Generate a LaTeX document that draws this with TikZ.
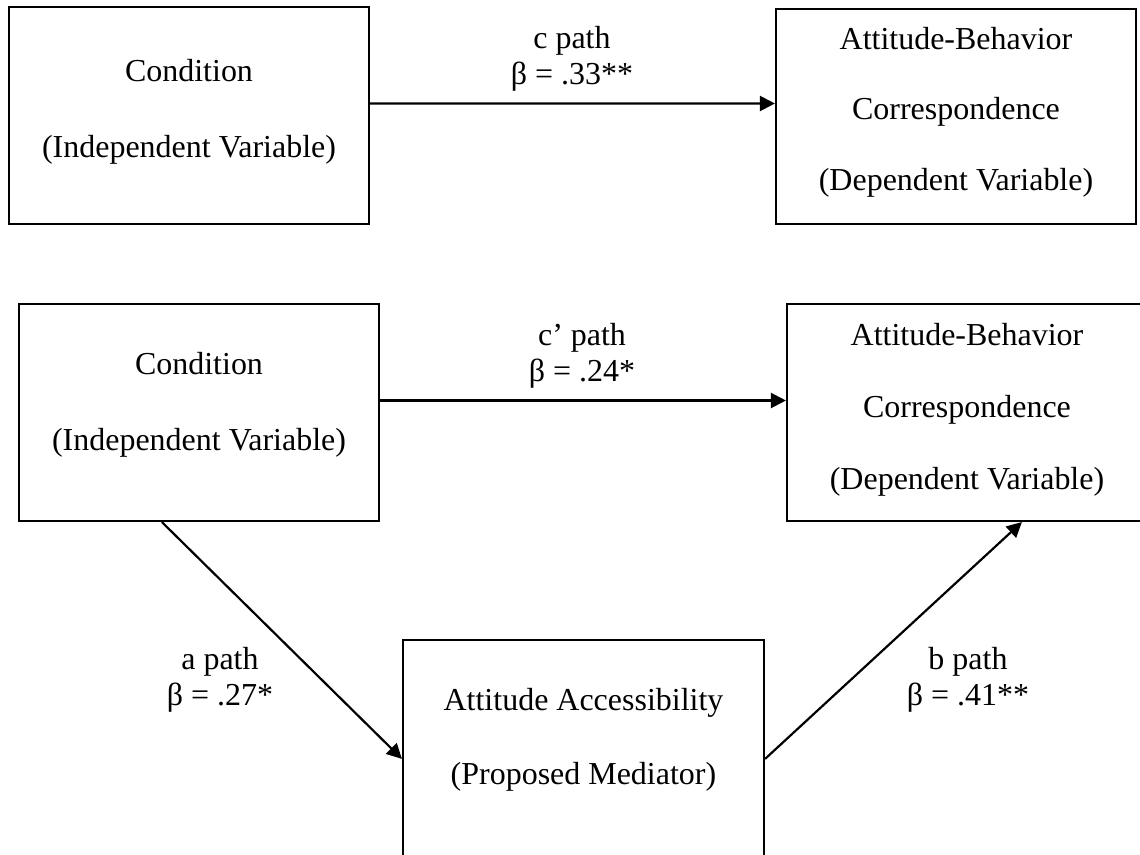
\documentclass[tikz,border=0pt]{standalone}
\usepackage{fontspec}
\setmainfont{Liberation Serif}
\usepackage{tikz}
\usetikzlibrary{arrows.meta}

\begin{document}
\begin{tikzpicture}[x=0.02cm,y=0.02cm,font=\fontsize{18.2}{20.6}\selectfont]
\tikzstyle{every node}+=[inner sep=0pt]
\tikzstyle{varbox}=[draw, line width=1.25pt, minimum width=7.2cm, minimum height=4.34cm]
\tikzstyle{boxtext}=[align=center]
\tikzstyle{pathlabel}=[align=center]
\tikzstyle{link}=[line width=1.25pt, -{Triangle[length=3mm,width=3mm]}]
\useasboundingbox (0,0) rectangle (1140,-855);
% total effect
\node [varbox] (cond1) at (189,-115.5) {};
\node [boxtext] (cond1text) at (189,-112) {Condition\\[23pt](Independent Variable)};
\node [varbox, minimum height=4.3cm] (dv1) at (956,-116.5) {};
\node [boxtext] (dv1text) at (956,-112) {Attitude-Behavior\\[19.5pt]Correspondence\\[19.5pt](Dependent Variable)};
\draw [link] ([yshift=0.24cm]cond1.east) -- ([yshift=0.26cm]dv1.west);
\node [pathlabel] (clabel) at (572,-59) {c path\\β = .33**};
% mediated model
\node [varbox] (cond2) at (199,-412.5) {};
\node [boxtext] (cond2text) at (199,-405) {Condition\\[22.5pt](Independent Variable)};
\node [varbox] (dv2) at (967,-412.5) {};
\node [boxtext] (dv2text) at (967,-410) {Attitude-Behavior\\[20.5pt]Correspondence\\[20.5pt](Dependent Variable)};
\node [varbox, minimum width=7.22cm, minimum height=5.2cm] (med) at (583.5,-770) {};
\node [boxtext] (medtext) at (583.5,-740) {Attitude Accessibility\\[21.5pt](Proposed Mediator)};
\draw [link] ([yshift=0.24cm]cond2.east) -- ([yshift=0.24cm]dv2.west);
\node [pathlabel] (cplabel) at (582,-356) {c’ path\\β = .24*};
\draw [link] ([xshift=2.88cm]cond2.south west) -- ([yshift=-2.4cm]med.north west);
\node [pathlabel] (alabel) at (220,-680) {a path\\β = .27*};
\draw [link] ([yshift=-2.4cm]med.north east) -- ([xshift=4.72cm]dv2.south west);
\node [pathlabel] (blabel) at (968,-680) {b path\\β = .41**};
\end{tikzpicture}
\end{document}
